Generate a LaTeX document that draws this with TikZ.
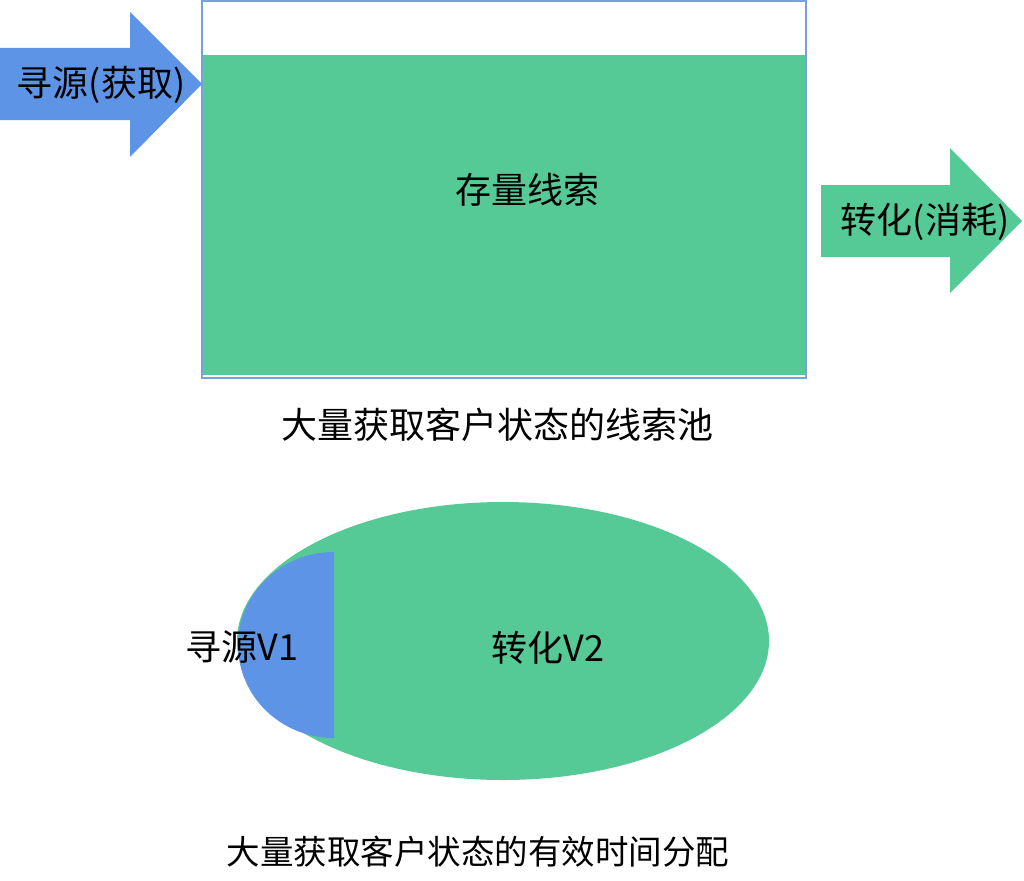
\documentclass[tikz,border=0pt]{standalone}
\definecolor{srcblue}{RGB}{94, 148, 230}
\definecolor{poolgreen}{RGB}{86, 202, 150}
\definecolor{edgeblue}{RGB}{120, 160, 222}
\usepackage{fontspec}
\setmainfont{Noto Sans CJK SC}
\usepackage{tikz}
\usetikzlibrary{positioning, calc}
\tikzset{
  cnlabel/.style={inner sep=0pt, font=\fontsize{36}{42}\selectfont}
}

\begin{document}
\begin{tikzpicture}[x=1pt, y=-1pt]
  \useasboundingbox (0,0) rectangle (1024,880);
  % upper part: the pool of leads
  \draw[edgeblue, line width=1.2pt] (202,1) rectangle (806,378);
  \fill[poolgreen] (203,55) rectangle (805,375);
  \fill[srcblue] (0,48) -- (130,48) -- (130,12) -- (202,84) -- (130,157) -- (130,120) -- (0,120) -- cycle;
  \fill[poolgreen] (821,185) -- (950,185) -- (950,148) -- (1022,221) -- (950,293) -- (950,257) -- (821,257) -- cycle;
  \node[cnlabel] (pool) at (527,190) {存量线索};
  \node[cnlabel] (source) at (101,85) {寻源(获取)};
  \node[cnlabel] (convert) at (925,222) {转化(消耗)};
  \node[cnlabel] (poolcap) at (497,425) {大量获取客户状态的线索池};
  % lower part: split of the time
  \fill[poolgreen] (503,641) ellipse[x radius=266, y radius=139];
  \fill[srcblue] (334,552) arc[start angle=-90, end angle=-270, x radius=96, y radius=93] -- cycle;
  \node[cnlabel] (srcpart) at (242,647) {寻源V1};
  \node[cnlabel] (convpart) at (548,648) {转化V2};
  \node[cnlabel, font=\fontsize{33.5}{40}\selectfont] (timecap) at (478,852) {大量获取客户状态的有效时间分配};
\end{tikzpicture}
\end{document}
